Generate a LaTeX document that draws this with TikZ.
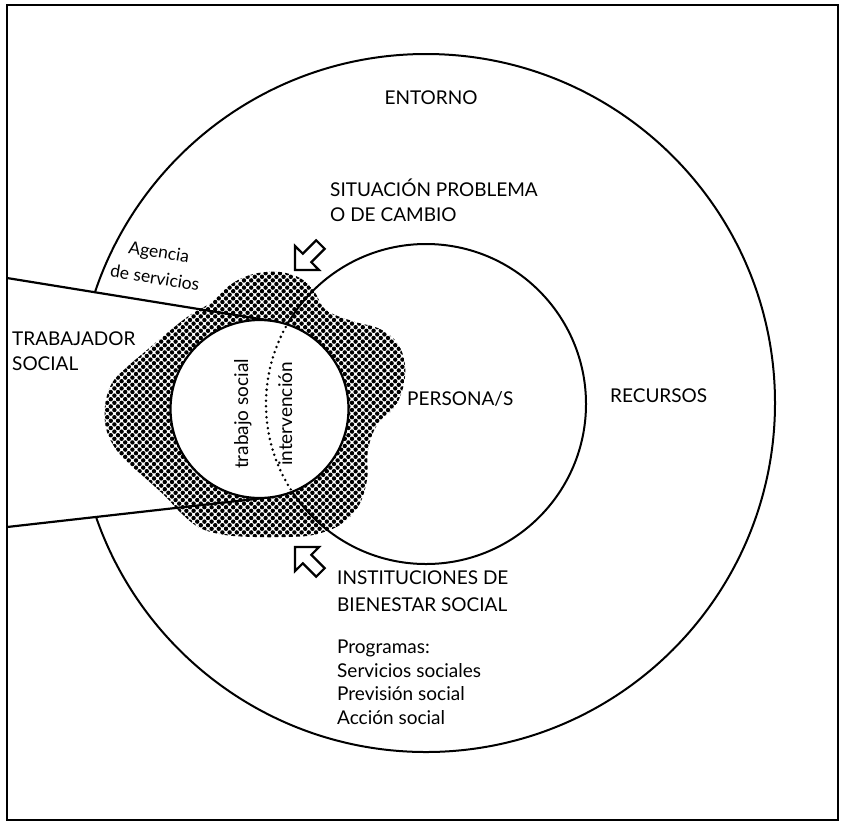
\documentclass[tikz,border=0pt]{standalone}
\usepackage{fontspec}
\setmainfont{Lato}
\tikzset{
  ring/.style={draw, circle, inner sep=0pt, line width=2pt},
  lbl/.style={inner sep=0pt, font=\fontsize{19}{21}\selectfont},
  smalllbl/.style={inner sep=0pt, font=\fontsize{17.5}{19}\selectfont},
  wedgeline/.style={line width=2.2pt},
  blockarrow/.style={draw, fill=white, line width=2.2pt, line join=miter},
  dotline/.style={line width=2.8pt, line cap=round, dash pattern=on 0pt off 5.5pt},
}
\begin{document}
\begin{tikzpicture}[x=1pt, y=-1pt]
\useasboundingbox (0,0) rectangle (842,823);
% outer circle (ENTORNO)
\node[ring, minimum size=698pt] (outer) at (426,403) {};
% coordinates of the wedge (trabajador social)
\coordinate (L1) at (7,278);
\coordinate (L2) at (7,527);
\coordinate (T1) at (273.7,321.2);
\coordinate (T2) at (269.4,497.4);
\coordinate (Sc) at (259.5,409);
\fill[white] (8.5,278) -- (T1) -- (Sc) -- (T2) -- (8.5,527) -- cycle;
% dotted blob
\begin{scope}
\clip plot[smooth cycle, tension=0.6] coordinates {
 (127,367) (147,350) (167,333) (190,315) (212,302) (225,289) (240,279) (258,273)
 (280,272) (300,278) (314,291) (326,310) (352,321) (380,329) (398,344) (405,365)
 (403,388) (394,408) (377,425) (368,450) (367,480) (358,507) (340,525) (313,535)
 (285,537) (255,537) (225,535) (200,528) (181,513) (165,496) (143,476) (121,456)
 (107,432) (105,406) (112,383)};
\foreach \i in {0,...,43}{
  \foreach \j in {0,...,39}{
    \fill (100+\i*7.2, 266+\j*7.2) circle[radius=2.2];
    \fill (103.6+\i*7.2, 269.6+\j*7.2) circle[radius=2.2];
  }
}
\end{scope}
% wedge lines
\draw[wedgeline] (L1) -- (T1);
\draw[wedgeline] (L2) -- (T2);
% persona circle
\node[ring, minimum size=320pt] (persona) at (426,404) {};
% small circle (trabajo social / intervencion)
\node[ring, minimum size=178pt, fill=white, line width=2.2pt] (ts) at (Sc) {};
\begin{scope}
  \clip (ts.center) circle[radius=87];
  \draw[dotline] (persona.center) circle[radius=160];
\end{scope}
% labels
\node[lbl, anchor=base] (entorno) at (431,104) {ENTORNO};
\node[lbl, anchor=base west] (sit1) at (330,196) {SITUACIÓN PROBLEMA};
\node[lbl, anchor=base west] (sit2) at (330,221) {O DE CAMBIO};
\node[smalllbl, anchor=base, rotate=-9] (ag1) at (158,258) {Agencia};
\node[smalllbl, anchor=base, rotate=-9] (ag2) at (154,284) {de servicios};
\node[lbl, anchor=base west] (tr1) at (12,345) {TRABAJADOR};
\node[lbl, anchor=base west] (tr2) at (12,370) {SOCIAL};
\node[lbl, anchor=base, rotate=90] (tsoc) at (248,414) {trabajo social};
\node[lbl, anchor=base, rotate=90] (inter) at (292,414) {intervención};
\node[lbl, anchor=base west] (pers) at (407,405) {PERSONA/S};
\node[lbl, anchor=base west] (recu) at (610,402) {RECURSOS};
\node[lbl, anchor=base west] (ins1) at (337,584) {INSTITUCIONES DE};
\node[lbl, anchor=base west] (ins2) at (337,611) {BIENESTAR SOCIAL};
\node[lbl, anchor=base west] (prog) at (337,653) {Programas:};
\node[lbl, anchor=base west] (prog1) at (337,677) {Servicios sociales};
\node[lbl, anchor=base west] (prog2) at (337,700) {Previsión social};
\node[lbl, anchor=base west] (prog3) at (337,724) {Acción social};
% block arrows
\coordinate (tipA) at (295,270);
\draw[blockarrow] (tipA) -- +(24,0) -- +(16.3,-7.8) -- +(29.7,-21.2) -- +(21.2,-29.7) -- +(7.8,-16.3) -- +(0,-24) -- cycle;
\coordinate (tipB) at (295,547);
\draw[blockarrow] (tipB) -- +(24,0) -- +(16.3,7.8) -- +(29.7,21.2) -- +(21.2,29.7) -- +(7.8,16.3) -- +(0,24) -- cycle;
% frame
\draw[line width=2.8pt] (7,5) rectangle (838,820);
\end{tikzpicture}
\end{document}
